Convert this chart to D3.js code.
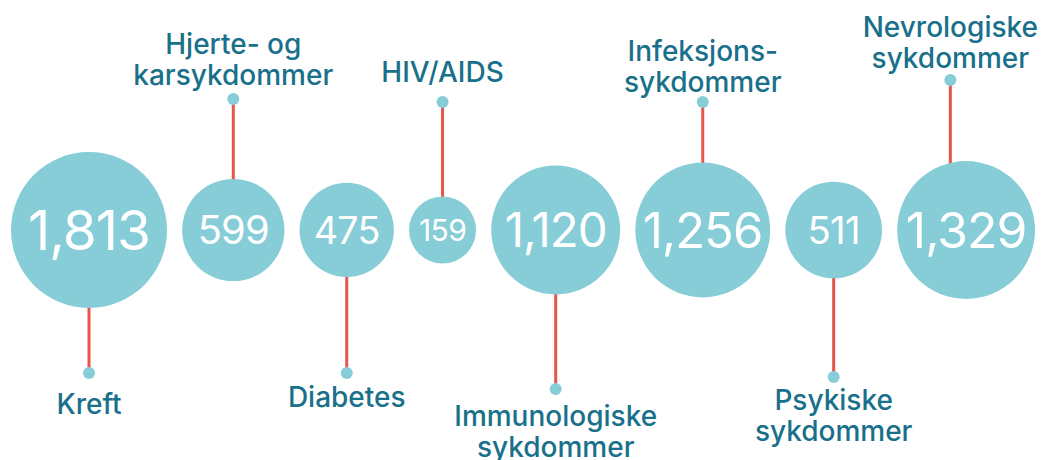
<!DOCTYPE html>
<html>
<head>
<meta charset="utf-8">
<script src="https://cdn.jsdelivr.net/npm/d3@7/dist/d3.min.js"></script>
<style>
  html, body { margin: 0; padding: 0; background: #ffffff; }
  svg { display: block; }
</style>
</head>
<body>
<div id="chart"></div>
<script>
// ---- data ----
const categories = [
  "Kreft",
  "Hjerte- og\nkarsykdommer",
  "Diabetes",
  "HIV/AIDS",
  "Immunologiske\nsykdommer",
  "Infeksjons-\nsykdommer",
  "Psykiske\nsykdommer",
  "Nevrologiske\nsykdommer"
];
const values = [1813, 599, 475, 159, 1120, 1256, 511, 1329];

// ---- annotation layout (not data) ----
const dotNudge = [-2, -2, -2, 1, 14, 1, 2, -21];
const textGap  = [41, 14, 34, 20, 37, 10, 33, 12];

const W = 1046, H = 460;
const margin = { left: 11, right: 11 };
const cy = 230;
const circleColor = "#86cdd8";
const leaderColor = "#e5574a";
const labelColor = "#19708a";
const fmt = d3.format(",");

const svg = d3.select("#chart").append("svg")
  .attr("width", W).attr("height", H);

const r = d3.scaleSqrt().domain(d3.extent(values)).range([33.5, 78]);
const fontScale = d3.scaleLinear().domain(r.range()).range([30, 55]);

// horizontal layout: circles side by side with an equal gap filling the width
const radii = values.map(v => r(v));
const totalD = d3.sum(radii) * 2;
const gap = (W - margin.left - margin.right - totalD) / (values.length - 1);
const cx = [];
let cursor = margin.left;
radii.forEach((rr, i) => { cx.push(cursor + rr); cursor += 2 * rr + gap; });

const data = values.map((v, i) => ({
  v, i, name: categories[i], lines: categories[i].split("\n"),
  x: cx[i], r: radii[i], above: i % 2 === 1
}));

const gLead = svg.append("g");
const gCirc = svg.append("g");
const gLab = svg.append("g");

// labels first, to measure width and clamp within the frame
const labels = gLab.selectAll("text.label").data(data).join("text")
  .attr("class", "label")
  .attr("text-anchor", "middle")
  .attr("font-family", "Inter, 'Noto Sans', sans-serif")
  .attr("font-size", 28)
  .attr("font-weight", 500)
  .attr("fill", labelColor);

labels.each(function(d) {
  const t = d3.select(this);
  d.dotY = (d.above ? 101 : 375) + dotNudge[d.i];
  const n = d.lines.length;
  const lh = 31;
  const firstBase = d.above ? d.dotY - textGap[d.i] - (n - 1) * lh : d.dotY + textGap[d.i];
  t.selectAll("tspan").data(d.lines).join("tspan")
    .attr("x", 0)
    .attr("y", (l, k) => firstBase + k * lh)
    .text(l => l);
  let w = 0;
  t.selectAll("tspan").each(function() { w = Math.max(w, this.getComputedTextLength()); });
  const pad = 8;
  d.lx = Math.max(pad + w / 2, Math.min(W - pad - w / 2, d.x));
  t.selectAll("tspan").attr("x", d.lx);
});

// leaders
gLead.selectAll("line").data(data).join("line")
  .attr("x1", d => d.lx).attr("x2", d => d.lx)
  .attr("y1", d => d.dotY).attr("y2", cy)
  .attr("stroke", leaderColor).attr("stroke-width", 3);

gLead.selectAll("circle").data(data).join("circle")
  .attr("cx", d => d.lx).attr("cy", d => d.dotY).attr("r", 6)
  .attr("fill", circleColor);

// bubbles
gCirc.selectAll("circle").data(data).join("circle")
  .attr("cx", d => d.x).attr("cy", cy).attr("r", d => d.r)
  .attr("fill", circleColor);

gCirc.selectAll("text").data(data).join("text")
  .attr("x", d => d.x)
  .attr("y", d => cy + 0.36 * fontScale(d.r))
  .attr("text-anchor", "middle")
  .attr("font-family", "Inter, 'Noto Sans', sans-serif")
  .attr("font-size", d => fontScale(d.r))
  .attr("letter-spacing", d => -0.02 * fontScale(d.r))
  .attr("fill", "#ffffff")
  .text(d => fmt(d.v));
</script>
</body>
</html>
